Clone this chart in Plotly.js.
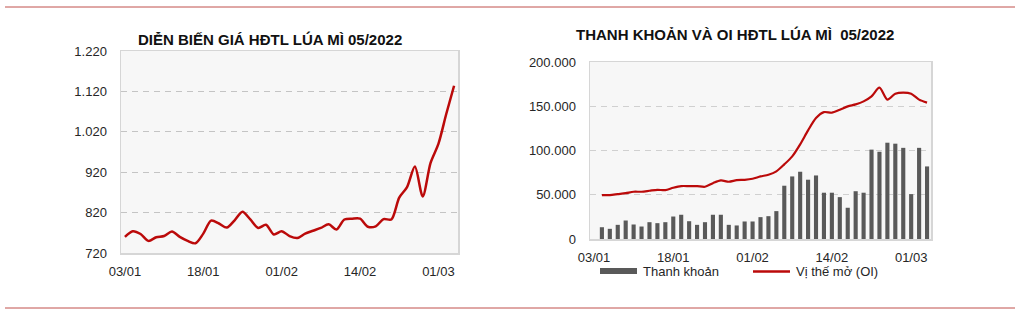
<!DOCTYPE html>
<html>
<head>
<meta charset="utf-8">
<script src="https://cdn.plot.ly/plotly-3.0.1.min.js"></script>
<style>
html,body{margin:0;padding:0;background:#fff;}
#chart{width:1024px;height:314px;}
</style>
</head>
<body>
<div id="chart"></div>
<script>
// Category index (trading sessions) and tick labels
const tickIdx = [0, 10, 20, 30, 40];
const tickLabels = ["03/01", "18/01", "01/02", "14/02", "01/03"];

// Left chart: wheat futures price (05/2022)
const price = [760, 774, 767, 750, 759, 762, 773, 760, 750, 744,
               768, 800, 793, 783, 801, 822, 803, 782, 790, 766,
               774, 762, 757, 768, 775, 782, 791, 778, 803, 805,
               805, 785, 786, 804, 803, 857, 883, 934, 860, 943,
               990, 1064, 1134];

// Right chart: volume (Thanh khoản) and open interest (OI)
const volume = [null, 13300, 11500, 16000, 20900, 16400, 14100, 19000, 17900, 19000,
                25400, 27400, 20100, 16000, 19000, 27400, 27400, 16000, 15300, 19800,
                19800, 24700, 25800, 31500, 60200, 70700, 76000, 67000, 71800, 52300,
                52300, 47300, 35300, 54000, 52300, 101000, 98600, 108800, 107700, 103000,
                50700, 103000, 82000];
const oi = [null, 49600, 49600, 50700, 51800, 53400, 53400, 54500, 55600, 55200,
            57900, 59800, 59800, 59800, 59000, 63100, 66200, 64700, 66500, 66900,
            68100, 70700, 72600, 76400, 84300, 93300, 106900, 122700, 136700, 143400,
            142700, 146100, 149900, 152100, 155500, 161200, 171000, 157500, 164200, 165400,
            164200, 157500, 154100];

const titleLeft = "DIỄN BIẾN GIÁ HĐTL LÚA MÌ 05/2022";
const titleRight = "THANH KHOẢN VÀ OI HĐTL LÚA MÌ  05/2022";
const legendNames = ["Thanh khoản", "Vị thế mở (OI)"];

const idx = price.map((_, i) => i);
const W = 1024, H = 314;
const px = v => v / W;
const py = v => 1 - v / H;
const FONT = '"Liberation Sans", Arial, sans-serif';
const RED = '#bb0a0a';
const BAR = '#595959';
const TXT = '#262626';

const traces = [
  {x: idx, y: price, type: 'scatter', mode: 'lines', xaxis: 'x', yaxis: 'y',
   line: {color: RED, width: 2.5, shape: 'spline', smoothing: 0.8}, hoverinfo: 'y', showlegend: false},
  {x: idx, y: volume, type: 'bar', xaxis: 'x2', yaxis: 'y2', name: legendNames[0],
   marker: {color: BAR}, showlegend: false},
  {x: idx, y: oi, type: 'scatter', mode: 'lines', xaxis: 'x2', yaxis: 'y2', name: legendNames[1],
   line: {color: RED, width: 2.2, shape: 'spline', smoothing: 0.8}, connectgaps: false, showlegend: false}
];

const axisCommon = {
  showline: true, mirror: true, linecolor: '#d6d6d6', linewidth: 1.5,
  ticks: '', zeroline: false, fixedrange: true,
  tickfont: {family: FONT, size: 13, color: TXT}
};

const layout = {
  width: W, height: H,
  margin: {l: 0, r: 0, t: 0, b: 0},
  paper_bgcolor: '#ffffff',
  plot_bgcolor: '#f7f7f7',
  separators: ',.',
  bargap: 0.48,
  showlegend: false,
  xaxis: Object.assign({}, axisCommon, {
    domain: [px(121), px(458)], anchor: 'y', range: [-0.5, 42.5],
    tickmode: 'array', tickvals: tickIdx, ticktext: tickLabels,
    showgrid: false, ticklabelstandoff: 6
  }),
  yaxis: Object.assign({}, axisCommon, {
    domain: [py(253), py(51)], anchor: 'x', range: [720, 1220],
    tickmode: 'array', tickvals: [720, 820, 920, 1020, 1120, 1220], tickformat: ',d',
    showgrid: true, gridcolor: '#c4c4c4', griddash: '6px,5px', gridwidth: 1,
    ticklabelstandoff: 10
  }),
  xaxis2: Object.assign({}, axisCommon, {
    domain: [px(590), px(931)], anchor: 'y2', range: [-0.5, 42.5],
    tickmode: 'array', tickvals: tickIdx, ticktext: tickLabels,
    showgrid: false, ticklabelstandoff: 6
  }),
  yaxis2: Object.assign({}, axisCommon, {
    domain: [py(239), py(62)], anchor: 'x2', range: [0, 200000],
    tickmode: 'array', tickvals: [0, 50000, 100000, 150000, 200000], tickformat: ',d',
    showgrid: true, gridcolor: '#d0d0d0', griddash: '6px,5px', gridwidth: 1,
    ticklabelstandoff: 10
  }),
  shapes: [
    {type: 'line', xref: 'paper', yref: 'paper', x0: px(5), x1: px(1015), y0: py(7), y1: py(7),
     line: {color: '#c0504d', width: 1}},
    {type: 'line', xref: 'paper', yref: 'paper', x0: px(5), x1: px(1015), y0: py(308), y1: py(308),
     line: {color: '#c0504d', width: 1}},
    // legend icons
    {type: 'rect', xref: 'paper', yref: 'paper', x0: px(600), x1: px(637), y0: py(274), y1: py(268),
     fillcolor: BAR, line: {width: 0}},
    {type: 'line', xref: 'paper', yref: 'paper', x0: px(753), x1: px(790), y0: py(271.5), y1: py(271.5),
     line: {color: RED, width: 2.5}}
  ],
  annotations: [
    {text: '<b>' + titleLeft + '</b>', xref: 'paper', yref: 'paper', x: px(270), y: py(40),
     xanchor: 'center', yanchor: 'middle', showarrow: false,
     font: {family: FONT, size: 15, color: '#111'}},
    {text: '<b>' + titleRight + '</b>', xref: 'paper', yref: 'paper', x: px(735), y: py(35),
     xanchor: 'center', yanchor: 'middle', showarrow: false,
     font: {family: FONT, size: 15, color: '#111'}},
    {text: legendNames[0], xref: 'paper', yref: 'paper', x: px(641), y: py(271.5),
     xanchor: 'left', yanchor: 'middle', showarrow: false,
     font: {family: FONT, size: 13, color: TXT}},
    {text: legendNames[1], xref: 'paper', yref: 'paper', x: px(794), y: py(271.5),
     xanchor: 'left', yanchor: 'middle', showarrow: false,
     font: {family: FONT, size: 13, color: TXT}}
  ]
};

Plotly.newPlot('chart', traces, layout, {displayModeBar: false, staticPlot: true});
</script>
</body>
</html>
